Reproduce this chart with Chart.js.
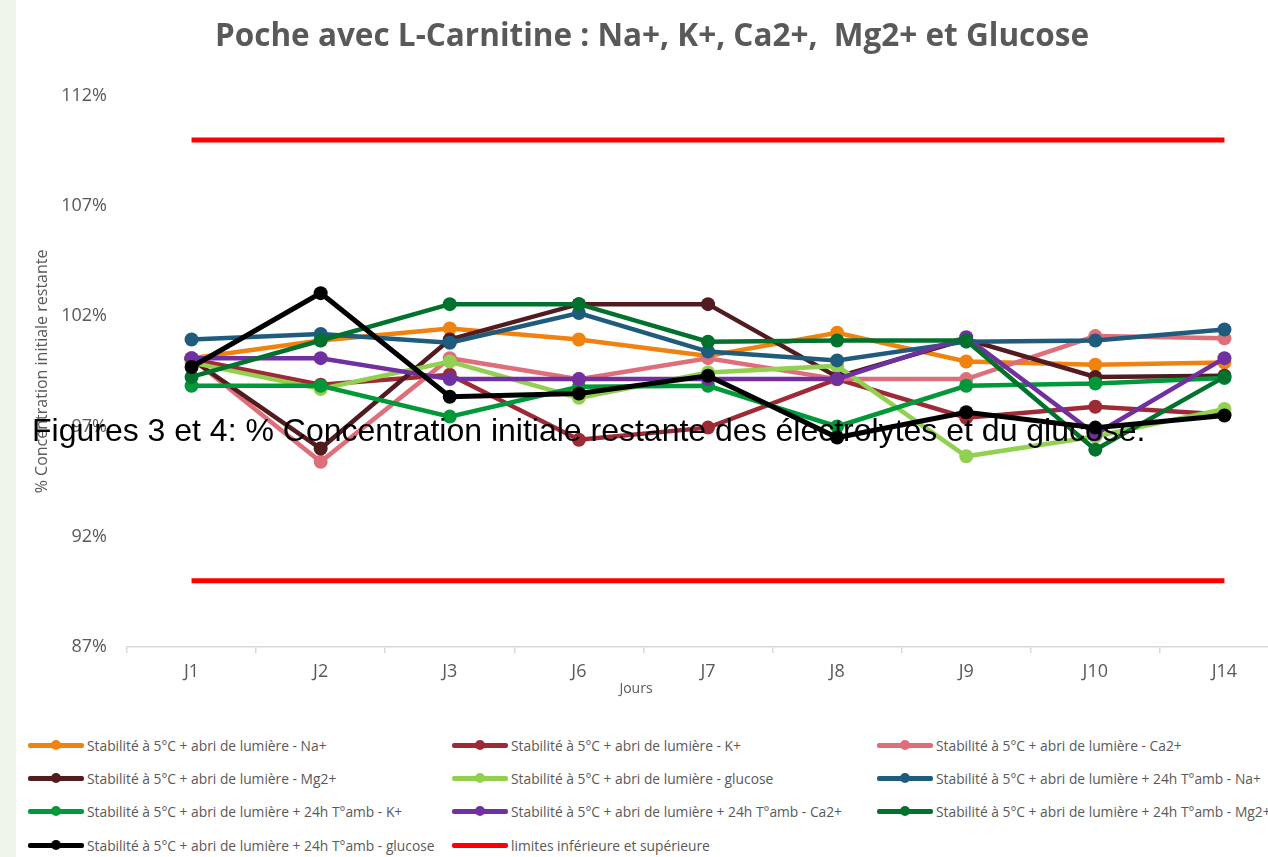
<!DOCTYPE html>
<html>
<head>
<meta charset="utf-8">
<script src="https://cdn.jsdelivr.net/npm/chart.js@4.4.1/dist/chart.umd.min.js"></script>
<style>
  body { margin: 0; width: 1268px; height: 857px; overflow: hidden; background: #fff; position: relative; font-family: 'Open Sans', sans-serif; }
  #stripe { position: absolute; left: 0; top: 0; width: 16px; height: 857px; background: #EEF6EC; z-index: 2; }
  #wrap { position: absolute; left: 0; top: 0; width: 1300px; height: 720px; }
  #xtitle { position: absolute; left: 596px; width: 80px; top: 679px; text-align: center; font-size: 14px; line-height: 18px; color: #595959; }
  #caption { position: absolute; left: 32px; top: 414px; font-family: 'Liberation Sans', Arial, sans-serif; font-size: 32px; line-height: 32px; color: #000; white-space: nowrap; z-index: 3; }
  .leg { position: absolute; height: 20px; display: flex; align-items: center; font-size: 13.8px; color: #595959; white-space: nowrap; }
  .sw { position: relative; width: 56px; height: 20px; margin-right: 3px; flex: none; }
  .sw .ln { position: absolute; left: 0; right: 0; top: 8px; height: 4.5px; border-radius: 2px; }
  .sw .dt { position: absolute; left: 23px; top: 5px; width: 10px; height: 10px; border-radius: 50%; }
</style>
</head>
<body>
<div id="stripe"></div>
<div id="wrap"><canvas id="chart" width="1300" height="720"></canvas></div>
<div id="xtitle">Jours</div>
<div id="caption">Figures 3 et 4: % Concentration initiale restante des électrolytes et du glucose.</div>
<div id="legend"></div>
<script>
document.addEventListener('DOMContentLoaded', () => {

  // Categories and series (in %)
  const days = ['J1', 'J2', 'J3', 'J6', 'J7', 'J8', 'J9', 'J10', 'J14'];
  const yTicks = [87, 92, 97, 102, 107, 112];

  const na5 = [100.1, 100.9, 101.45, 100.95, 100.2, 101.25, 99.95, 99.8, 99.9];
  const k5 = [100.05, 98.9, 99.35, 96.4, 96.95, 99.15, 97.4, 97.9, 97.55];
  const ca5 = [100.1, 95.4, 100.1, 99.15, 100.1, 99.15, 99.15, 101.1, 101.0];
  const mg5 = [100.05, 96.0, 100.95, 102.55, 102.55, 99.25, 100.95, 99.25, 99.3];
  const glu5 = [99.9, 98.7, 99.95, 98.3, 99.45, 99.75, 95.65, 96.55, 97.8];
  const na24 = [100.95, 101.2, 100.8, 102.15, 100.4, 100.0, 100.85, 100.9, 101.4];
  const k24 = [98.85, 98.85, 97.45, 98.8, 98.85, 97.0, 98.85, 98.95, 99.2];
  const ca24 = [100.1, 100.1, 99.15, 99.15, 99.15, 99.15, 101.05, 96.65, 100.1];
  const mg24 = [99.25, 100.9, 102.55, 102.55, 100.85, 100.9, 100.9, 95.95, 99.25];
  const glu24 = [99.7, 103.05, 98.35, 98.5, 99.3, 96.5, 97.65, 96.95, 97.5];
  const lowerLimit = [90, 90, 90, 90, 90, 90, 90, 90, 90];
  const upperLimit = [110, 110, 110, 110, 110, 110, 110, 110, 110];

  const series = [
    { label: 'Stabilité à 5°C + abri de lumière - Na+', data: na5, color: '#F0820F' },
    { label: 'Stabilité à 5°C + abri de lumière - K+', data: k5, color: '#9E2A36' },
    { label: 'Stabilité à 5°C + abri de lumière - Ca2+', data: ca5, color: '#DE6E7A' },
    { label: 'Stabilité à 5°C + abri de lumière - Mg2+', data: mg5, color: '#521B20' },
    { label: 'Stabilité à 5°C + abri de lumière - glucose', data: glu5, color: '#92D050' },
    { label: 'Stabilité à 5°C + abri de lumière + 24h T°amb - Na+', data: na24, color: '#1F5B7D' },
    { label: 'Stabilité à 5°C + abri de lumière + 24h T°amb - K+', data: k24, color: '#00993A' },
    { label: 'Stabilité à 5°C + abri de lumière + 24h T°amb - Ca2+', data: ca24, color: '#7030A0' },
    { label: 'Stabilité à 5°C + abri de lumière + 24h T°amb - Mg2+', data: mg24, color: '#00722E' },
    { label: 'Stabilité à 5°C + abri de lumière + 24h T°amb - glucose', data: glu24, color: '#000000' }
  ];

  const datasets = series.map((s, i) => ({
    label: s.label,
    data: s.data,
    borderColor: s.color,
    backgroundColor: s.color,
    borderWidth: s.color === '#000000' ? 5 : 4.5,
    pointRadius: 7,
    pointBorderWidth: 0,
    tension: 0,
    order: 20 - i // later series drawn on top, like the original
  }));

  // Limits: two lines, one legend entry
  datasets.push({
    label: 'limites inférieure et supérieure', data: lowerLimit,
    borderColor: '#FF0000', backgroundColor: '#FF0000', borderWidth: 5, pointRadius: 0, order: 5
  });
  datasets.push({
    label: 'limites inférieure et supérieure', data: upperLimit,
    borderColor: '#FF0000', backgroundColor: '#FF0000', borderWidth: 5, pointRadius: 0, order: 5
  });

  const grey = '#595959';

  new Chart(document.getElementById('chart'), {
    type: 'line',
    data: { labels: days, datasets: datasets },
    options: {
      responsive: false,
      animation: false,
      devicePixelRatio: 1,
      layout: { padding: { left: 15, right: 11, top: 0, bottom: 0 } },
      plugins: {
        legend: { display: false },
        tooltip: { enabled: false },
        title: {
          display: true,
          text: 'Poche avec L-Carnitine : Na+, K+, Ca2+,  Mg2+ et Glucose',
          color: grey,
          font: { family: "'Open Sans', sans-serif", size: 31.5, weight: 'bold' },
          padding: { top: 18, bottom: 40 }
        }
      },
      scales: {
        x: {
          offset: true,
          grid: { display: true, drawOnChartArea: false, drawTicks: true, tickLength: 6, offset: true, color: '#D9D9D9', lineWidth: 1.5 },
          border: { display: true, color: '#D9D9D9', width: 1.5 },
          ticks: { color: grey, padding: 8, font: { family: "'Open Sans', sans-serif", size: 18 } },
          afterFit: (scale) => { scale.height = 73; }
        },
        y: {
          min: yTicks[0],
          max: yTicks[yTicks.length - 1],
          grid: { display: false, drawTicks: false },
          border: { display: false },
          ticks: {
            stepSize: 5,
            padding: 20,
            color: grey,
            font: { family: "'Open Sans', sans-serif", size: 18 },
            callback: (v) => v + '%'
          },
          title: {
            display: true,
            text: '% Concentration initiale restante',
            color: grey,
            font: { family: "'Open Sans', sans-serif", size: 16 },
            padding: { top: 18, bottom: 0 }
          },
          afterFit: (scale) => { scale.width = 112; }
        }
      }
    }
  });

  // HTML legend, 3 columns
  const legend = document.getElementById('legend');
  const colX = [28, 452, 877];
  const rowY = [735, 768, 801, 835];
  const items = series.map(s => ({ label: s.label, color: s.color, dot: true }));
  items.push({ label: 'limites inférieure et supérieure', color: '#FF0000', dot: false });
  items.forEach((it, i) => {
    const el = document.createElement('div');
    el.className = 'leg';
    el.style.left = colX[i % 3] + 'px';
    el.style.top = rowY[Math.floor(i / 3)] + 'px';
    el.innerHTML = `<span class="sw"><span class="ln" style="background:${it.color}"></span>` +
      (it.dot ? `<span class="dt" style="background:${it.color}"></span>` : '') +
      `</span><span>${it.label}</span>`;
    legend.appendChild(el);
  });

});
</script>
</body>
</html>
